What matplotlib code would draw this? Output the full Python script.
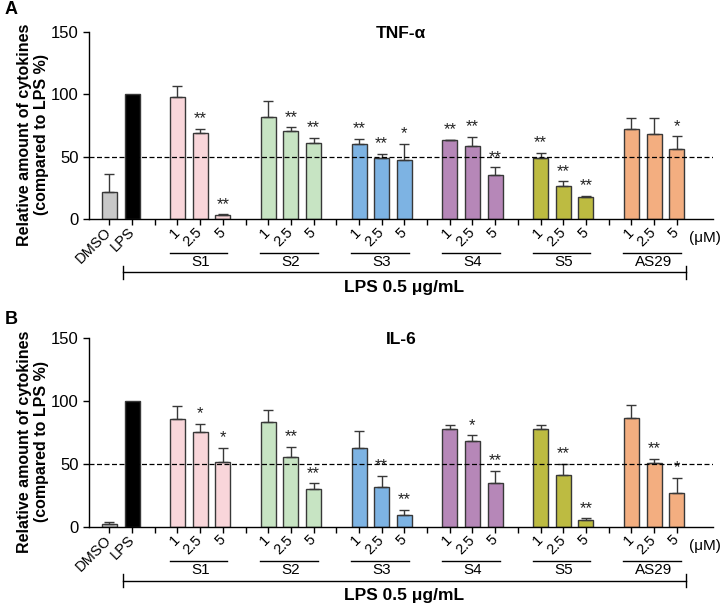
import matplotlib
matplotlib.use("Agg")
import matplotlib.pyplot as plt
from matplotlib.transforms import blended_transform_factory

plt.rcParams['font.family'] = ['Liberation Sans', 'DejaVu Sans']

# ---- data ----
controls = ["DMSO", "LPS"]
groups = ["S1", "S2", "S3", "S4", "S5", "AS29"]
doses = ["1", "2.5", "5"]

tnf_ctrl = [21.3, 100.0]
tnf_ctrl_err = [14.5, 0.0]
tnf_vals = [[97.5, 68.7, 3.2], [81.5, 70.3, 60.8], [60.5, 49.0, 47.2],
            [63.4, 58.6, 35.7], [48.8, 26.1, 17.9], [72.0, 68.2, 56.0]]
tnf_err = [[9.3, 3.8, 0.5], [12.8, 3.2, 4.2], [4.0, 3.2, 13.0],
           [0.3, 7.4, 5.9], [4.2, 4.0, 0.8], [9.3, 12.5, 10.3]]
tnf_sig = [["", "**", "**"], ["", "**", "**"], ["**", "**", "*"],
           ["**", "**", "**"], ["**", "**", "**"], ["", "", "*"]]

il6_ctrl = [1.9, 100.0]
il6_ctrl_err = [1.5, 0.0]
il6_vals = [[85.7, 75.1, 51.3], [82.8, 55.0, 30.2], [62.2, 31.7, 9.5],
            [77.8, 67.7, 34.4], [77.8, 41.0, 5.0], [86.5, 50.8, 27.0]]
il6_err = [[10.1, 6.6, 11.4], [9.5, 8.2, 4.2], [13.7, 8.8, 4.0],
           [2.6, 4.8, 10.0], [2.6, 8.7, 1.6], [9.8, 2.9, 11.9]]
il6_sig = [["", "*", "*"], ["", "**", "**"], ["", "**", "**"],
           ["", "*", "**"], ["", "**", "**"], ["", "**", "*"]]

ctrl_colors = ["#c8c8c8", "#000000"]
group_colors = ["#f9d6da", "#c7e4c3", "#7db3e3", "#b687b8", "#bdbb41", "#f3ae80"]

fig = plt.figure(figsize=(7.2, 6.05), dpi=100)


def draw_panel(rect, letter, letter_y, title, ctrl, ctrl_err, vals, errs, sigs):
    ax = fig.add_axes(rect)
    ec = "#383838"
    bw = 0.66
    xs_all, labels_all = [], []
    # controls
    for i, (v, e, c) in enumerate(zip(ctrl, ctrl_err, ctrl_colors)):
        ax.bar(i, v, width=bw, color=c, edgecolor=ec, linewidth=1, zorder=2)
        if e > 0:
            ax.errorbar(i, v, yerr=[[0], [e]], fmt='none', ecolor=ec,
                        elinewidth=1, capsize=3.5, capthick=1, zorder=3)
        xs_all.append(i)
        labels_all.append(controls[i])
    xs_all.append(2)
    labels_all.append("")
    trans = blended_transform_factory(ax.transData, ax.transAxes)
    for g, name in enumerate(groups):
        base = 3 + 4 * g
        for d in range(3):
            x = base + d
            v = vals[g][d]
            e = errs[g][d]
            ax.bar(x, v, width=bw, color=group_colors[g], edgecolor=ec,
                   linewidth=1, zorder=2)
            ax.errorbar(x, v, yerr=[[0], [e]], fmt='none', ecolor=ec,
                        elinewidth=1, capsize=3.5, capthick=1, zorder=3)
            if sigs[g][d]:
                ax.text(x, v + e + 2.0, sigs[g][d], ha='center', va='bottom',
                        fontsize=12, color="#222222")
            xs_all.append(x)
            labels_all.append(doses[d])
        if g < len(groups) - 1:
            xs_all.append(base + 3)
            labels_all.append("")
        # group underline and label
        ax.plot([base - 0.35, base + 2.2], [-0.18, -0.18], color='black',
                lw=1, transform=trans, clip_on=False)
        ax.text(base + 1, -0.193, name, ha='center', va='top', fontsize=11,
                transform=trans)
    # LPS bracket
    yb = -0.285
    ax.plot([0.6, 25.4], [yb, yb], color='black', lw=1, transform=trans,
            clip_on=False)
    for xe in (0.6, 25.4):
        ax.plot([xe, xe], [yb - 0.035, yb + 0.035], color='black', lw=1,
                transform=trans, clip_on=False)
    ax.text(13.0, -0.325, "LPS 0.5 μg/mL", ha='center', va='top',
            fontsize=12.5, fontweight='bold', transform=trans)
    ax.text(25.55, -0.1, "(μM)", ha='left', va='center', fontsize=11,
            transform=trans)

    ax.axhline(50, color='black', lw=0.9, ls=(0, (4, 2)), zorder=4)
    ax.set_xlim(-0.9, 26.6)
    ax.set_ylim(0, 150)
    ax.set_yticks([0, 50, 100, 150])
    ax.set_xticks(xs_all)
    ax.set_xticklabels(labels_all, rotation=45, ha='right', va='center',
                       rotation_mode='anchor', fontsize=10.5)
    ax.tick_params(axis='x', length=4, width=1, pad=4)
    ax.tick_params(axis='y', length=4, width=1, labelsize=12)
    for s in ('top', 'right'):
        ax.spines[s].set_visible(False)
    for s in ('left', 'bottom'):
        ax.spines[s].set_linewidth(1)
    ax.set_ylabel("Relative amount of cytokines\n(compared to LPS %)",
                  fontsize=11.5, fontweight='bold')
    ax.yaxis.set_label_coords(-0.064, 0.45)
    ax.text(0.5, 0.99, title, ha='center', va='center', fontsize=12.5,
            fontweight='bold', transform=ax.transAxes)
    fig.text(0.006, letter_y, letter, fontsize=13, fontweight='bold',
             ha='left', va='top')
    return ax


draw_panel([0.1236, 0.638, 0.8667, 0.309], "A", 0.998, "TNF-α",
           tnf_ctrl, tnf_ctrl_err, tnf_vals, tnf_err, tnf_sig)
draw_panel([0.1236, 0.1294, 0.8667, 0.3124], "B", 0.486, "IL-6",
           il6_ctrl, il6_ctrl_err, il6_vals, il6_err, il6_sig)

fig.savefig("out.png", dpi=100)
